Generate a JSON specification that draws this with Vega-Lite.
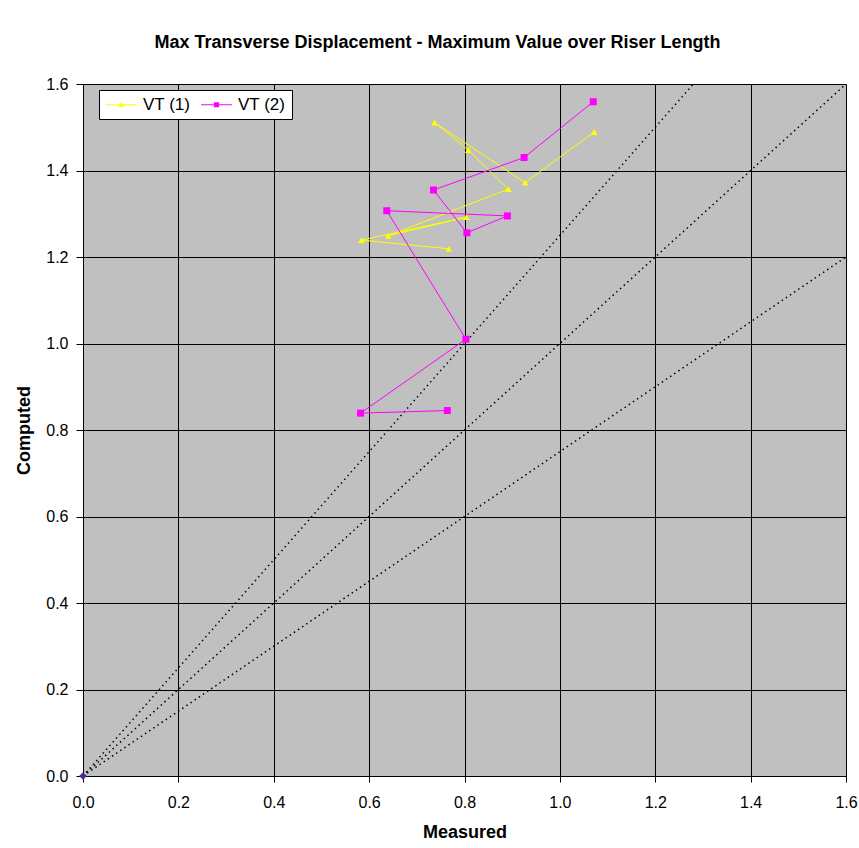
{
  "$schema": "https://vega.github.io/schema/vega-lite/v6.json",
  "width": 763,
  "height": 692,
  "autosize": {"type": "none"},
  "padding": {"left": 83, "top": 84, "right": 13, "bottom": 72},
  "background": "white",
  "title": {
    "text": "Max Transverse Displacement - Maximum Value over Riser Length",
    "font": "Liberation Sans",
    "fontSize": 18,
    "fontWeight": "bold",
    "color": "black",
    "anchor": "middle",
    "offset": 24,
    "dx": -27
  },
  "config": {
    "view": {"fill": "#C0C0C0", "stroke": "#808080", "strokeWidth": 1},
    "axis": {
      "domainColor": "black",
      "tickColor": "black",
      "gridColor": "black",
      "gridOpacity": 1,
      "gridWidth": 1,
      "labelFont": "Liberation Sans",
      "labelFontSize": 16,
      "labelColor": "black",
      "labelFlush": false,
      "titleFont": "Liberation Sans",
      "titleFontSize": 18,
      "titleFontWeight": "bold",
      "titleColor": "black"
    },
    "legend": {
      "orient": "none",
      "direction": "horizontal",
      "fillColor": "white",
      "strokeColor": "black",
      "padding": 6,
      "symbolSize": 289,
      "symbolStrokeWidth": 0,
      "symbolOpacity": 1,
      "symbolOffset": 8,
      "labelFont": "Liberation Sans",
      "labelFontSize": 17,
      "labelColor": "black",
      "labelOffset": 13,
      "columnPadding": 9
    }
  },
  "datasets": {
    "series": [
      {"series": "VT (1)", "idx": 1, "measured": 1.072, "computed": 1.489},
      {"series": "VT (1)", "idx": 2, "measured": 0.927, "computed": 1.372},
      {"series": "VT (1)", "idx": 3, "measured": 0.737, "computed": 1.511},
      {"series": "VT (1)", "idx": 4, "measured": 0.808, "computed": 1.447},
      {"series": "VT (1)", "idx": 5, "measured": 0.892, "computed": 1.357},
      {"series": "VT (1)", "idx": 6, "measured": 0.640, "computed": 1.249},
      {"series": "VT (1)", "idx": 7, "measured": 0.804, "computed": 1.292},
      {"series": "VT (1)", "idx": 8, "measured": 0.584, "computed": 1.239},
      {"series": "VT (1)", "idx": 9, "measured": 0.767, "computed": 1.219},
      {"series": "VT (2)", "idx": 1, "measured": 1.070, "computed": 1.559},
      {"series": "VT (2)", "idx": 2, "measured": 0.925, "computed": 1.430},
      {"series": "VT (2)", "idx": 3, "measured": 0.735, "computed": 1.355},
      {"series": "VT (2)", "idx": 4, "measured": 0.805, "computed": 1.256},
      {"series": "VT (2)", "idx": 5, "measured": 0.890, "computed": 1.295},
      {"series": "VT (2)", "idx": 6, "measured": 0.637, "computed": 1.307},
      {"series": "VT (2)", "idx": 7, "measured": 0.803, "computed": 1.010},
      {"series": "VT (2)", "idx": 8, "measured": 0.582, "computed": 0.839},
      {"series": "VT (2)", "idx": 9, "measured": 0.764, "computed": 0.845}
    ],
    "refs": [
      {"ref": "1.25", "measured": 0, "computed": 0},
      {"ref": "1.25", "measured": 1.28, "computed": 1.6},
      {"ref": "1.00", "measured": 0, "computed": 0},
      {"ref": "1.00", "measured": 1.6, "computed": 1.6},
      {"ref": "0.75", "measured": 0, "computed": 0},
      {"ref": "0.75", "measured": 1.6, "computed": 1.2}
    ],
    "origin": [
      {"measured": 0, "computed": 0}
    ]
  },
  "layer": [
    {
      "data": {"name": "refs"},
      "mark": {"type": "line", "color": "black", "strokeWidth": 1.5, "strokeDash": [1.5, 3.5], "clip": false},
      "encoding": {
        "x": {
          "field": "measured",
          "type": "quantitative",
          "scale": {"domain": [0, 1.6], "nice": false, "zero": false},
          "axis": {
            "title": "Measured",
            "values": [0, 0.2, 0.4, 0.6, 0.8, 1.0, 1.2, 1.4, 1.6],
            "format": ".1f",
            "tickSize": 6,
            "labelPadding": 12,
            "titlePadding": 13
          }
        },
        "y": {
          "field": "computed",
          "type": "quantitative",
          "scale": {"domain": [0, 1.6], "nice": false, "zero": false},
          "axis": {
            "title": "Computed",
            "values": [0, 0.2, 0.4, 0.6, 0.8, 1.0, 1.2, 1.4, 1.6],
            "format": ".1f",
            "tickSize": 7,
            "labelPadding": 8,
            "titlePadding": 12
          }
        },
        "detail": {"field": "ref", "type": "nominal"}
      }
    },
    {
      "data": {"name": "series"},
      "transform": [{"filter": "datum.series === 'VT (1)'"}],
      "mark": {"type": "line", "strokeWidth": 1, "color": "#FFFF00"},
      "encoding": {
        "x": {"field": "measured", "type": "quantitative"},
        "y": {"field": "computed", "type": "quantitative"},
        "order": {"field": "idx", "type": "quantitative"}
      }
    },
    {
      "data": {"name": "series"},
      "transform": [{"filter": "datum.series === 'VT (2)'"}],
      "mark": {"type": "line", "strokeWidth": 1, "color": "#FF00FF"},
      "encoding": {
        "x": {"field": "measured", "type": "quantitative"},
        "y": {"field": "computed", "type": "quantitative"},
        "order": {"field": "idx", "type": "quantitative"}
      }
    },
    {
      "data": {"name": "series"},
      "transform": [{"filter": "datum.series === 'VT (1)'"}],
      "mark": {"type": "point", "shape": "triangle-up", "filled": true, "opacity": 1, "size": 45, "color": "#FFFF00"},
      "encoding": {
        "x": {"field": "measured", "type": "quantitative"},
        "y": {"field": "computed", "type": "quantitative"}
      }
    },
    {
      "data": {"name": "series"},
      "transform": [{"filter": "datum.series === 'VT (2)'"}],
      "mark": {"type": "point", "shape": "square", "filled": true, "opacity": 1, "size": 49, "color": "#FF00FF"},
      "encoding": {
        "x": {"field": "measured", "type": "quantitative"},
        "y": {"field": "computed", "type": "quantitative"}
      }
    },
    {
      "data": {"name": "origin"},
      "mark": {"type": "point", "shape": "diamond", "filled": true, "opacity": 1, "size": 60, "color": "#4B2896", "clip": false},
      "encoding": {
        "x": {"field": "measured", "type": "quantitative"},
        "y": {"field": "computed", "type": "quantitative"}
      }
    },
    {
      "data": {"name": "series"},
      "mark": {"type": "point", "filled": true, "opacity": 0, "size": 289},
      "encoding": {
        "x": {"field": "measured", "type": "quantitative"},
        "y": {"field": "computed", "type": "quantitative"},
        "color": {
          "field": "series",
          "type": "nominal",
          "scale": {"domain": ["VT (1)", "VT (2)"], "range": ["#FFFF00", "#FF00FF"]},
          "legend": {"title": null, "orient": "none", "legendX": 16, "legendY": 6, "direction": "horizontal"}
        },
        "shape": {
          "field": "series",
          "type": "nominal",
          "scale": {"domain": ["VT (1)", "VT (2)"], "range": ["M-1.82,-0.06H1.82V0.06H-1.82Z M0,-0.36L0.36,0.26H-0.36Z", "M-1.82,-0.06H1.82V0.06H-1.82Z M-0.3,-0.3H0.3V0.3H-0.3Z"]},
          "legend": {"title": null, "orient": "none", "legendX": 16, "legendY": 6, "direction": "horizontal"}
        }
      }
    }
  ]
}
